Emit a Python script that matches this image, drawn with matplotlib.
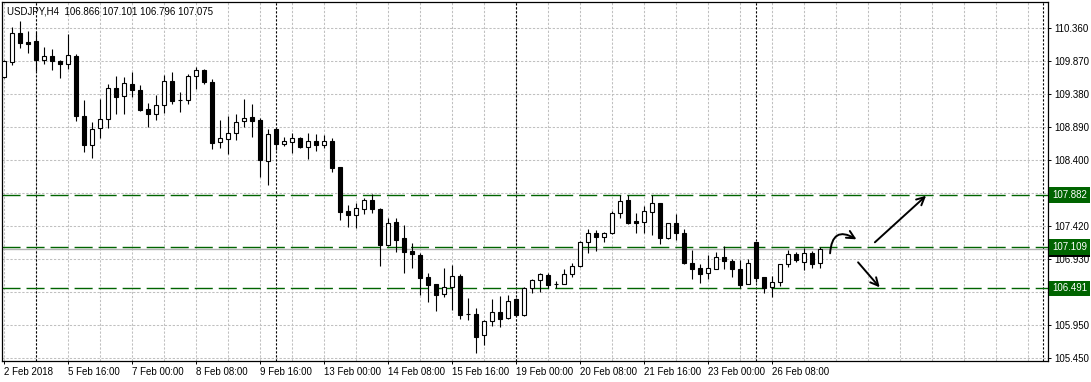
import numpy as np
import matplotlib
matplotlib.use("Agg")
import matplotlib.pyplot as plt
import matplotlib.transforms as mtransforms

plt.rcParams['font.family'] = ['Liberation Sans', 'DejaVu Sans']

# USDJPY H4 candles, 2 Feb 2018 08:00 .. 27 Feb 2018 08:00
opens = [109.640, 109.863, 110.286, 110.156, 110.167, 109.893, 109.943, 109.873, 109.824, 109.948,
         109.055, 108.628, 108.872, 109.006, 109.472, 109.348, 109.531, 109.442, 109.159, 109.080,
         109.219, 109.576, 109.289, 109.289, 109.646, 109.735, 109.561, 108.664, 108.708, 108.798,
         108.985, 109.036, 108.996, 108.390, 108.862, 108.634, 108.673, 108.728, 108.598, 108.679,
         108.619, 108.688, 108.296, 107.642, 107.587, 107.676, 107.805, 107.671, 107.136, 107.473,
         107.235, 107.046, 106.987, 106.660, 106.555, 106.402, 106.506, 106.670, 106.104, 106.104,
         105.792, 106.000, 106.143, 106.045, 106.332, 106.094, 106.491, 106.615, 106.694, 106.555,
         106.560, 106.700, 106.828, 107.176, 107.310, 107.250, 107.310, 107.607, 107.805, 107.488,
         107.473, 107.631, 107.756, 107.244, 107.459, 107.310, 106.868, 106.789, 106.715, 106.774,
         106.953, 106.898, 106.774, 106.551, 107.180, 106.655, 106.506, 106.581, 106.848, 107.002,
         106.887, 107.012, 106.866]
highs = [109.888, 110.384, 110.469, 110.320, 110.300, 110.082, 110.052, 109.888, 110.271, 109.973,
         109.293, 108.970, 109.308, 109.531, 109.650, 109.640, 109.710, 109.516, 109.244, 109.368,
         109.665, 109.705, 109.417, 109.676, 109.784, 109.750, 109.606, 108.996, 109.055, 109.085,
         109.308, 109.234, 109.030, 108.862, 108.881, 108.747, 108.798, 108.738, 108.798, 108.792,
         108.777, 108.732, 108.300, 107.731, 107.756, 107.839, 107.895, 107.682, 107.533, 107.533,
         107.433, 107.161, 107.017, 106.715, 106.560, 106.789, 106.838, 106.700, 106.343, 106.194,
         106.020, 106.332, 106.377, 106.392, 106.347, 106.506, 106.625, 106.719, 106.715, 106.600,
         106.779, 106.863, 107.200, 107.369, 107.359, 107.334, 107.646, 107.884, 107.884, 107.616,
         107.716, 107.884, 107.765, 107.463, 107.597, 107.369, 107.061, 106.853, 106.982, 107.036,
         107.116, 106.923, 106.913, 106.923, 107.185, 106.660, 106.674, 106.848, 107.061, 107.036,
         107.091, 107.046, 107.101]
lows = [109.620, 109.814, 110.071, 109.997, 109.725, 109.824, 109.740, 109.625, 109.754, 108.985,
        108.524, 108.435, 108.732, 108.872, 109.080, 109.080, 109.342, 109.129, 108.896, 108.996,
        109.104, 109.229, 109.110, 109.234, 109.457, 109.531, 108.569, 108.583, 108.485, 108.698,
        108.896, 108.738, 108.152, 108.028, 108.549, 108.613, 108.500, 108.583, 108.415, 108.534,
        108.579, 108.226, 107.508, 107.408, 107.393, 107.592, 107.616, 106.828, 107.125, 107.036,
        106.715, 106.789, 106.392, 106.292, 106.158, 106.366, 106.168, 106.030, 106.020, 105.533,
        105.652, 105.930, 105.911, 106.039, 106.079, 106.084, 106.426, 106.441, 106.491, 106.491,
        106.551, 106.655, 106.813, 107.012, 107.051, 107.185, 107.295, 107.542, 107.448, 107.319,
        107.319, 107.284, 107.146, 107.221, 107.210, 106.853, 106.634, 106.575, 106.634, 106.774,
        106.774, 106.664, 106.496, 106.551, 106.590, 106.426, 106.366, 106.526, 106.804, 106.887,
        106.764, 106.789, 106.796]
closes = [109.873, 110.286, 110.137, 110.131, 109.893, 109.943, 109.878, 109.833, 109.958, 109.055,
          108.624, 108.862, 109.010, 109.472, 109.342, 109.542, 109.437, 109.149, 109.080, 109.214,
          109.571, 109.283, 109.287, 109.646, 109.735, 109.557, 108.658, 108.723, 108.798, 108.970,
          109.030, 108.985, 108.400, 108.787, 108.634, 108.679, 108.723, 108.598, 108.679, 108.619,
          108.679, 108.286, 107.631, 107.587, 107.686, 107.805, 107.667, 107.136, 107.459, 107.210,
          107.036, 106.997, 106.649, 106.545, 106.396, 106.506, 106.670, 106.099, 106.102, 105.771,
          106.000, 106.143, 106.039, 106.298, 106.094, 106.491, 106.615, 106.700, 106.545, 106.553,
          106.700, 106.828, 107.176, 107.310, 107.250, 107.310, 107.607, 107.795, 107.459, 107.467,
          107.637, 107.756, 107.244, 107.459, 107.310, 106.863, 106.783, 106.704, 106.789, 106.953,
          106.893, 106.774, 106.545, 106.863, 106.649, 106.500, 106.581, 106.848, 107.002, 106.913,
          107.012, 106.853, 107.075]

time_labels = ["2 Feb 2018", "5 Feb 16:00", "7 Feb 00:00", "8 Feb 08:00", "9 Feb 16:00",
               "13 Feb 00:00", "14 Feb 08:00", "15 Feb 16:00", "19 Feb 00:00", "20 Feb 08:00",
               "21 Feb 16:00", "23 Feb 00:00", "26 Feb 08:00"]
price_ticks = [110.360, 109.870, 109.380, 108.890, 108.400, 107.910,
               107.420, 106.930, 106.440, 105.950, 105.450]
levels = [107.882, 107.109, 106.491]
bid = 107.075
week_starts = [4, 34, 64, 94, 129.9]

green = '#006400'
grid_c = '#c0c0c0'

fig = plt.figure(figsize=(10.91, 3.82), dpi=100)
ax = fig.add_axes([2 / 1091, 21 / 382, 1046 / 1091, 359 / 382])
ax.set_xlim(-0.21, 130.54)
ax.set_ylim(105.410, 110.751)

# grid
for gx in np.arange(0, 131, 4):
    ax.axvline(gx, color=grid_c, lw=0.75, dashes=(2.2, 1.6), zorder=0)
for gy in price_ticks:
    ax.axhline(gy, color=grid_c, lw=0.75, dashes=(2.2, 1.6), zorder=0)

# week separators
for sx in week_starts:
    ax.axvline(sx, color='black', lw=0.8, dashes=(2.0, 1.6), zorder=1)

# bid line and levels
ax.axhline(bid, color='#b4b4b4', lw=1.0, zorder=1)
for lv in levels:
    ax.axhline(lv, color=green, lw=1.0, dashes=(13, 4.3), zorder=1)

# candles
idx = np.arange(len(opens))
o = np.array(opens)
c = np.array(closes)
up = c >= o
ax.vlines(idx, lows, highs, color='black', lw=0.8, zorder=2)
ax.bar(idx, np.abs(c - o), bottom=np.minimum(o, c), width=0.52,
       color=np.where(up, 'white', 'black'), edgecolor='black', linewidth=0.8, zorder=3)

# axes styling
for s in ax.spines.values():
    s.set_color('black')
    s.set_linewidth(0.9)
ax.yaxis.tick_right()
ax.set_yticks(price_ticks)
# 107.910 sits under the 107.882 level label, so leave it blank
ax.set_yticklabels(["" if abs(p - 107.910) < 1e-6 else f"{p:.3f}" for p in price_ticks])
ax.set_xticks(np.arange(0, 8 * len(time_labels), 8))
ax.set_xticklabels(time_labels)
for lbl in ax.get_xticklabels():
    lbl.set_horizontalalignment('left')
ax.tick_params(axis='x', direction='out', length=2.5, width=0.7, pad=1.5, labelsize=7)
ax.tick_params(axis='y', direction='out', length=2.5, width=0.7, pad=2, labelsize=7)

# price labels on the right scale
trans = mtransforms.blended_transform_factory(ax.transAxes, ax.transData)
ax.annotate(f"{bid:.3f}", xy=(1, bid), xycoords=trans, xytext=(4, 0), textcoords='offset pixels',
            ha='left', va='center', fontsize=7, color='white', annotation_clip=False,
            bbox=dict(boxstyle='square,pad=0.28', fc='black', ec='none'), zorder=5)
for lv in levels:
    ax.annotate(f"{lv:.3f}", xy=(1, lv), xycoords=trans, xytext=(4, 0), textcoords='offset pixels',
                ha='left', va='center', fontsize=7, color='white', annotation_clip=False,
                bbox=dict(boxstyle='square,pad=0.28', fc=green, ec='none'), zorder=6)

# hand-drawn scenario arrows
arrow_kw = dict(arrowstyle='->', lw=1.4, color='black', mutation_scale=14, shrinkA=0, shrinkB=0)
ax.annotate('', xy=(106.6, 107.220), xytext=(103.3, 107.012),
            arrowprops=dict(connectionstyle='arc3,rad=-0.8', **arrow_kw))
ax.annotate('', xy=(115.3, 107.869), xytext=(108.9, 107.176), arrowprops=arrow_kw)
ax.annotate('', xy=(109.5, 106.506), xytext=(106.8, 106.878), arrowprops=arrow_kw)

fig.text(7 / 1091, 1 - 11 / 382, "USDJPY,H4  106.866 107.101 106.796 107.075",
         fontsize=7, va='center', ha='left', color='black')

fig.savefig('out.png', dpi=100)
